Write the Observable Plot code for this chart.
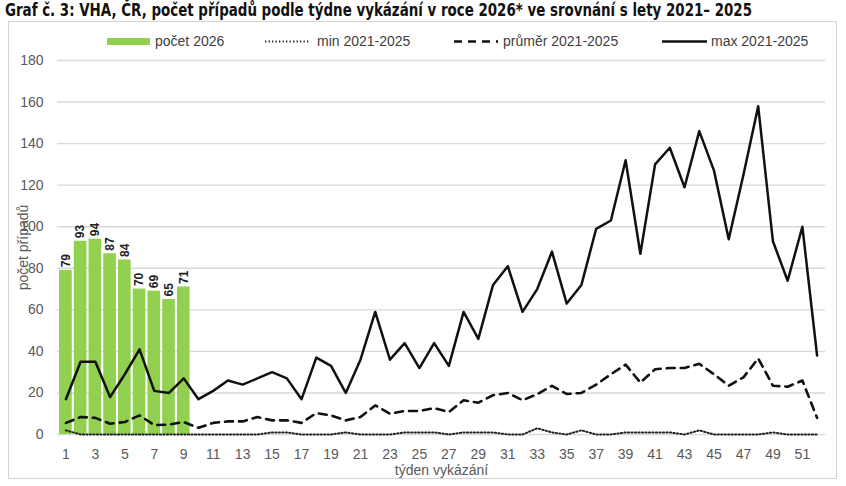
<!DOCTYPE html>
<html><head><meta charset="utf-8">
<script src="https://cdn.jsdelivr.net/npm/d3@7"></script>
<script src="https://cdn.jsdelivr.net/npm/@observablehq/plot@0.6"></script>
<style>
body{margin:0;background:#fff;font-family:"Liberation Sans",Arial,sans-serif;}
#wrap{position:relative;width:846px;height:486px;overflow:hidden;}
#title{position:absolute;left:5px;top:0px;font-family:"Liberation Sans Narrow","DejaVu Sans Condensed",sans-serif;font-weight:bold;font-size:17px;white-space:nowrap;color:#111;transform-origin:0 0;}
#frame{position:absolute;left:8px;top:21px;width:829px;height:458px;border:1px solid #d3d3d3;box-sizing:border-box;}
#legend{position:absolute;top:31px;left:0;width:846px;height:20px;font-size:14px;color:#404040;}
.li{position:absolute;top:0;height:20px;line-height:20px;white-space:nowrap;}
.sw{position:absolute;top:0;}
#chart{position:absolute;left:0;top:50px;}
</style></head>
<body>
<div id="wrap">
  <div id="title">Graf č. 3: VHA, ČR, počet případů podle týdne vykázání v roce 2026* ve srovnání s lety 2021– 2025</div>
  <div id="frame"></div>
  <div id="legend">
    <svg class="sw" style="left:107px" width="43" height="20"><rect x="0" y="7" width="43" height="7" fill="#92d050"/></svg>
    <span class="li" style="left:155px">počet 2026</span>
    <svg class="sw" style="left:265px" width="45" height="20"><line x1="0" x2="45" y1="10.5" y2="10.5" stroke="#222" stroke-width="2" stroke-dasharray="1.3,2.2"/></svg>
    <span class="li" style="left:317px">min 2021-2025</span>
    <svg class="sw" style="left:454px" width="44" height="20"><line x1="0" x2="44" y1="10.5" y2="10.5" stroke="#111" stroke-width="2.6" stroke-dasharray="8,6"/></svg>
    <span class="li" style="left:503px">průměr 2021-2025</span>
    <svg class="sw" style="left:662px" width="45" height="20"><line x1="0" x2="45" y1="10.5" y2="10.5" stroke="#111" stroke-width="2.5"/></svg>
    <span class="li" style="left:711px">max 2021-2025</span>
  </div>
  <div id="chart"></div>
</div>
<script>
const weeks = [1,2,3,4,5,6,7,8,9,10,11,12,13,14,15,16,17,18,19,20,21,22,23,24,25,26,27,28,29,30,31,32,33,34,35,36,37,38,39,40,41,42,43,44,45,46,47,48,49,50,51,52];
const barWeeks = [1,2,3,4,5,6,7,8,9];
const count2026 = [79,93,94,87,84,70,69,65,71];
const maxVals = [17,35,35,18,29,41,21,20,27,17,21,26,24,27,30,27,17,37,33,20,36,59,36,44,32,44,33,59,46,72,81,59,70,88,63,72,99,103,132,87,130,138,119,146,127,94,125,158,93,74,100,38];
const avgVals = [5.6,8.4,8,5.2,6,9.2,4.5,4.8,6,3.2,5.6,6.3,6.3,8.4,6.8,6.8,5.6,10.3,9.2,6.8,8.4,14,10,11.3,11.3,12.7,10.8,16.5,15.3,18.9,20,16.5,19.4,23.4,19.5,20,24,29,33.6,25,31.4,32,32,34,29,23.5,27.5,36.6,23.5,23,26,8];
const minVals = [2,0,0,0,0,0,0,0,0,0,0,0,0,0,1,1,0,0,0,1,0,0,0,1,1,1,0,1,1,1,0,0,3,1,0,2,0,0,1,1,1,1,0,2,0,0,0,0,1,0,0,0];
const yTicks = [0,20,40,60,80,100,120,140,160,180];
const xTicks = [1,3,5,7,9,11,13,15,17,19,21,23,25,27,29,31,33,35,37,39,41,43,45,47,49,51];

const series = weeks.map((w,i)=>({week:w, max:maxVals[i], avg:avgVals[i], min:minVals[i]}));
const bars = barWeeks.map((w,i)=>({week:w, count:count2026[i]}));

const chart = Plot.plot({
  width:846, height:430, marginTop:10, marginBottom:46, marginLeft:57, marginRight:21,
  style:{fontFamily:"'Liberation Sans', Arial, sans-serif", fontSize:"14px", color:"#595959", background:"transparent"},
  x:{type:"band", domain:weeks, padding:0.14, label:null},
  y:{domain:[0,180], label:null},
  marks:[
    Plot.gridY(yTicks,{stroke:"#d9d9d9", strokeOpacity:1, strokeWidth:1.4}),
    Plot.barY(bars,{x:"week", y:"count", fill:"#92d050"}),
    Plot.text(bars,{x:"week", y:"count", text:d=>String(d.count), rotate:-90, textAnchor:"start", dy:-3, fontWeight:"bold", fontSize:12, fill:"#222"}),
    Plot.lineY(series,{x:"week", y:"min", stroke:"#222", strokeWidth:2, strokeDasharray:"1.3,2.2"}),
    Plot.lineY(series,{x:"week", y:"avg", stroke:"#111", strokeWidth:2.6, strokeDasharray:"8,6"}),
    Plot.lineY(series,{x:"week", y:"max", stroke:"#111", strokeWidth:2.5}),
    Plot.axisY(yTicks,{tickSize:0, tickPadding:14, label:"počet případů", labelAnchor:"center", labelArrow:"none", labelOffset:39, fontSize:14}),
    Plot.axisX(xTicks,{tickSize:0, tickPadding:15, label:"týden vykázání", labelAnchor:"center", labelArrow:"none", labelOffset:40, fontSize:14})
  ]
});
document.getElementById("chart").appendChild(chart);

const t = document.getElementById("title");
const w = t.getBoundingClientRect().width;
t.style.transform = "scaleX(" + (747 / w).toFixed(4) + ")";
</script>
</body></html>
